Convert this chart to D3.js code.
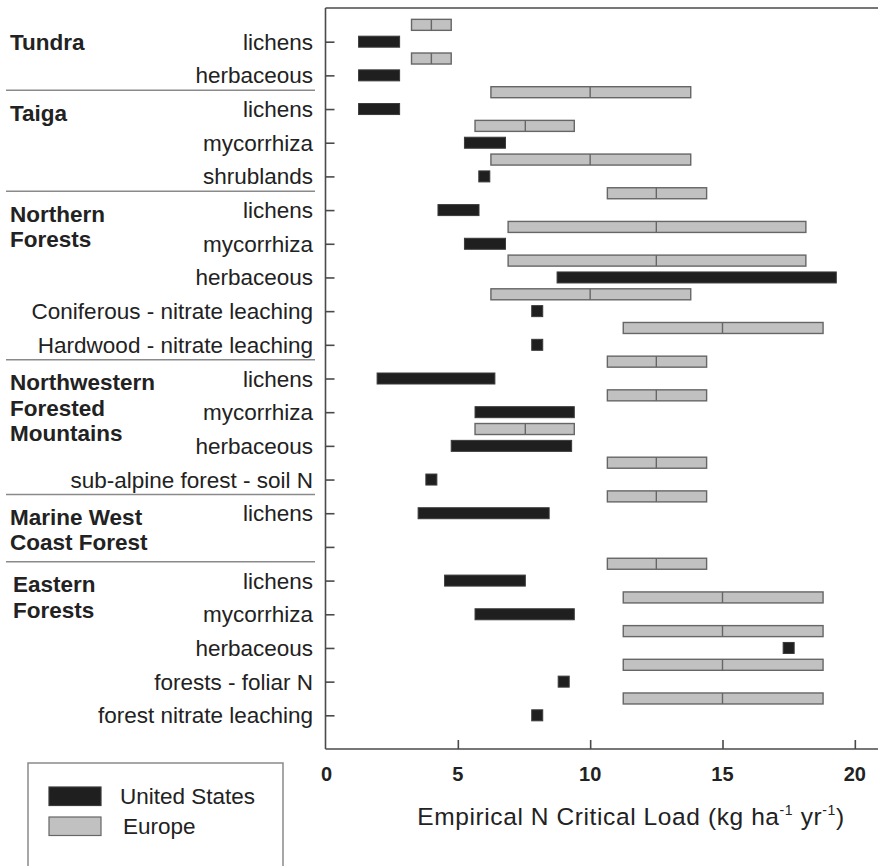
<!DOCTYPE html>
<html>
<head>
<meta charset="utf-8">
<script src="https://cdn.jsdelivr.net/npm/d3@7/dist/d3.min.js"></script>
<style>
  html, body { margin: 0; padding: 0; background: #fff; }
  svg { display: block; font-family: "Liberation Sans", Arial, Helvetica, sans-serif; }
</style>
</head>
<body>
<svg id="chart" width="878" height="866"></svg>
<script>
// ---------------- DATA ----------------
const rowLabels = [
  "lichens", "herbaceous",
  "lichens", "mycorrhiza", "shrublands",
  "lichens", "mycorrhiza", "herbaceous", "Coniferous - nitrate leaching", "Hardwood - nitrate leaching",
  "lichens", "mycorrhiza", "herbaceous", "sub-alpine forest - soil N",
  "lichens", "",
  "lichens", "mycorrhiza", "herbaceous", "forests - foliar N", "forest nitrate leaching"
];
// United States critical load ranges (low == high means a single value)
const usLow  = [1.25, 1.25, 1.25, 5.25, 6.0, 4.25, 5.25, 8.75, 8.0, 8.0, 1.95, 5.65, 4.75, 4.0, 3.5, null, 4.5, 5.65, 17.5, 9.0, 8.0];
const usHigh = [2.8, 2.8, 2.8, 6.8, 6.0, 5.8, 6.8, 19.3, 8.0, 8.0, 6.4, 9.4, 9.3, 4.0, 8.45, null, 7.55, 9.4, 17.5, 9.0, 8.0];
// Europe critical load ranges with a central value
const euLow  = [3.25, 3.25, 6.25, 5.65, 6.25, 10.65, 6.9, 6.9, 6.25, 11.25, 10.65, 10.65, 5.65, 10.65, 10.65, null, 10.65, 11.25, 11.25, 11.25, 11.25];
const euMid  = [4.0, 4.0, 10.0, 7.55, 10.0, 12.5, 12.5, 12.5, 10.0, 15.0, 12.5, 12.5, 7.55, 12.5, 12.5, null, 12.5, 15.0, 15.0, 15.0, 15.0];
const euHigh = [4.75, 4.75, 13.8, 9.4, 13.8, 14.4, 18.15, 18.15, 13.8, 18.8, 14.4, 14.4, 9.4, 14.4, 14.4, null, 14.4, 18.8, 18.8, 18.8, 18.8];

const groupNames = [["Tundra"], ["Taiga"], ["Northern", "Forests"], ["Northwestern", "Forested", "Mountains"], ["Marine West", "Coast Forest"], ["Eastern", "Forests"]];
const groupStartRow = [0, 2, 5, 10, 14, 16];
const separatorAfterRow = [1, 4, 9, 13, 15];

const xTicks = [0, 5, 10, 15, 20];
const xMax = 20.8;
const legendLabels = ["United States", "Europe"];

// ---------------- LAYOUT ----------------
const svg = d3.select("#chart");
const plot = { left: 325.5, right: 876, top: 8, bottom: 749 };
const US_FILL = "#1f1f1f", US_STROKE = "#3a3a3a";
const EU_FILL = "#c1c1c1", EU_STROKE = "#666";
const AXIS = "#4a4a4a";
const TEXT = "#222";
const barH = 11;
const pointW = 11;

const x = d3.scaleLinear().domain([0, xMax]).range([plot.left, plot.right]);
const rowIdx = d3.range(rowLabels.length);
const y = d3.scalePoint().domain(rowIdx).range([plot.top, plot.bottom]).padding(1);
const step = y.step();

// ---- bars: Europe (half a row above) ----
const eu = rowIdx.filter(i => euLow[i] != null);
const euG = svg.append("g");
euG.selectAll("rect").data(eu).join("rect")
  .attr("x", i => x(euLow[i]))
  .attr("width", i => x(euHigh[i]) - x(euLow[i]))
  .attr("y", i => y(i) - step / 2 - barH / 2)
  .attr("height", barH)
  .attr("fill", EU_FILL).attr("stroke", EU_STROKE).attr("stroke-width", 1.4);
euG.selectAll("line").data(eu).join("line")
  .attr("x1", i => x(euMid[i])).attr("x2", i => x(euMid[i]))
  .attr("y1", i => y(i) - step / 2 - barH / 2)
  .attr("y2", i => y(i) - step / 2 + barH / 2)
  .attr("stroke", EU_STROKE).attr("stroke-width", 1.4);

// ---- bars: United States (on row ticks) ----
const us = rowIdx.filter(i => usLow[i] != null);
svg.append("g").selectAll("rect").data(us).join("rect")
  .attr("x", i => usLow[i] === usHigh[i] ? x(usLow[i]) - pointW / 2 : x(usLow[i]))
  .attr("width", i => usLow[i] === usHigh[i] ? pointW : x(usHigh[i]) - x(usLow[i]))
  .attr("y", i => y(i) - barH / 2)
  .attr("height", barH)
  .attr("fill", US_FILL).attr("stroke", US_STROKE).attr("stroke-width", 1);

// ---- frame & axes ----
const frame = svg.append("g").attr("stroke", AXIS).attr("stroke-width", 1.6).attr("fill", "none");
frame.append("line").attr("x1", plot.left).attr("x2", plot.right + 2).attr("y1", plot.top).attr("y2", plot.top);
frame.append("line").attr("x1", plot.left).attr("x2", plot.left).attr("y1", plot.top).attr("y2", plot.bottom);
frame.append("line").attr("x1", plot.left).attr("x2", plot.right + 2).attr("y1", plot.bottom).attr("y2", plot.bottom);

// y ticks (inward)
const yAxis = d3.axisRight(y).tickSize(9).tickFormat("");
const yg = svg.append("g").attr("transform", `translate(${plot.left},0)`).call(yAxis);
yg.select(".domain").remove();
yg.selectAll(".tick line").attr("stroke", AXIS).attr("stroke-width", 1.6);

// x ticks (inward)
const xAxis = d3.axisTop(x).tickValues(xTicks.filter(v => v > 0)).tickSize(9).tickFormat("");
const xg = svg.append("g").attr("transform", `translate(0,${plot.bottom})`).call(xAxis);
xg.select(".domain").remove();
xg.selectAll(".tick line").attr("stroke", AXIS).attr("stroke-width", 1.6);

// x tick labels
svg.append("g").selectAll("text").data(xTicks).join("text")
  .attr("x", d => x(d) + (d === 0 ? 1 : 0))
  .attr("y", 781)
  .attr("text-anchor", "middle")
  .attr("font-size", 20).attr("font-weight", "bold").attr("fill", TEXT)
  .text(d => d);

// x axis title
const title = svg.append("text")
  .attr("x", 631).attr("y", 825)
  .attr("text-anchor", "middle").attr("font-size", 24.5).attr("letter-spacing", 0.6).attr("fill", TEXT);
title.append("tspan").text("Empirical N Critical Load (kg ha");
title.append("tspan").attr("font-size", 14).attr("dy", -10).text("-1");
title.append("tspan").attr("dy", 10).text(" yr");
title.append("tspan").attr("font-size", 14).attr("dy", -10).text("-1");
title.append("tspan").attr("dy", 10).text(")");

// row labels
svg.append("g").selectAll("text").data(rowIdx.filter(i => rowLabels[i])).join("text")
  .attr("x", 313).attr("y", i => y(i) + 8)
  .attr("text-anchor", "end").attr("font-size", 22.5).attr("fill", TEXT)
  .text(i => rowLabels[i]);

// group labels
const gg = svg.append("g");
groupNames.forEach((lines, gi) => {
  const gx = gi === 5 ? 13 : 10;
  const t = gg.append("text")
    .attr("x", gx)
    .attr("y", y(groupStartRow[gi]) + (gi === 0 ? 8 : 11.5))
    .attr("font-size", 22.5).attr("font-weight", "bold").attr("fill", TEXT);
  lines.forEach((ln, li) => {
    t.append("tspan").attr("x", gx).attr("dy", li === 0 ? 0 : 25.5).text(ln);
  });
});

// separators
svg.append("g").selectAll("line").data(separatorAfterRow).join("line")
  .attr("x1", 6).attr("x2", 315)
  .attr("y1", r => y(r) + step / 2 - 2).attr("y2", r => y(r) + step / 2 - 2)
  .attr("stroke", "#8a8a8a").attr("stroke-width", 1.5);

// legend
const lg = svg.append("g");
lg.append("rect").attr("x", 28).attr("y", 763).attr("width", 255).attr("height", 120)
  .attr("fill", "none").attr("stroke", "#8a8a8a").attr("stroke-width", 1.5);
const legendFills = [US_FILL, EU_FILL], legendStrokes = [US_STROKE, EU_STROKE];
legendLabels.forEach((lab, i) => {
  lg.append("rect").attr("x", 49).attr("y", 787 + i * 30).attr("width", 52).attr("height", 18.5)
    .attr("fill", legendFills[i]).attr("stroke", legendStrokes[i]).attr("stroke-width", 1.2);
  lg.append("text").attr("x", i === 0 ? 120 : 123).attr("y", 804 + i * 30)
    .attr("font-size", 22.5).attr("fill", TEXT).text(lab);
});
</script>
</body>
</html>
